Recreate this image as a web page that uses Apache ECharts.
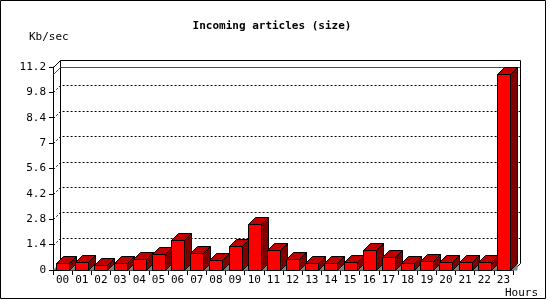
<!DOCTYPE html>
<html>
<head>
<meta charset="utf-8">
<script src="https://cdn.jsdelivr.net/npm/echarts@6/dist/echarts.min.js"></script>
<style>
html,body{margin:0;padding:0;background:#fff;}
#c{width:550px;height:300px;}
</style>
</head>
<body>
<div id="c"></div>
<script>
// ---- data ----
var hours = ['00','01','02','03','04','05','06','07','08','09','10','11',
             '12','13','14','15','16','17','18','19','20','21','22','23'];
var sizes = [0.37,0.42,0.26,0.37,0.59,0.87,1.66,0.92,0.53,1.31,2.52,1.09,
             0.61,0.37,0.37,0.42,1.10,0.70,0.37,0.48,0.42,0.42,0.42,10.8];
var yTicks = [0,1.4,2.8,4.2,5.6,7,8.4,9.8,11.2];
var titleText = 'Incoming articles (size)';
var yUnit = 'Kb/sec';
var xUnit = 'Hours';

// ---- style ----
var FONT = 'DejaVu Sans Mono';
var D = 7;        // 3D depth in px
var BD = 7;       // bar depth
var HALF = 6.5;   // half front width of bar
function px(v){ return Math.round(v) + 0.5; }

var chart = echarts.init(document.getElementById('c'), null, {renderer:'canvas'});

var gridLines = yTicks.slice(1, yTicks.length - 1);
var maxVal = Math.max.apply(null, sizes);

var option = {
  animation: false,
  backgroundColor: '#fff',
  title: [
    {text: titleText, left: 272, top: 21, textAlign: 'center', padding: 0,
     textStyle: {fontFamily: FONT, fontSize: 11, fontWeight: 'bold', color: '#000'}},
    {text: yUnit, left: 29, top: 32, padding: 0,
     textStyle: {fontFamily: FONT, fontSize: 11, fontWeight: 'normal', color: '#000'}},
    {text: xUnit, left: 505, top: 288, padding: 0,
     textStyle: {fontFamily: FONT, fontSize: 11, fontWeight: 'normal', color: '#000'}}
  ],
  graphic: [
    {type: 'rect', shape: {x: 0.5, y: 0.5, width: 545, height: 298},
     style: {fill: 'none', stroke: '#000', lineWidth: 1}, z: 100, silent: true}
  ],
  grid: {left: 53, right: 37, top: 67, bottom: 30, containLabel: false},
  xAxis: {
    type: 'category', data: hours, boundaryGap: true,
    axisLine: {show: true, lineStyle: {color: '#000', width: 1}},
    axisTick: {show: true, length: 5, alignWithLabel: false, interval: 0, lineStyle: {color: '#000'}},
    axisLabel: {interval: 0, color: '#000', fontFamily: FONT, fontSize: 11, margin: 5},
    splitLine: {show: false}
  },
  yAxis: {
    type: 'value', min: yTicks[0], max: yTicks[yTicks.length - 1], interval: 1.4,
    axisLine: {show: true, lineStyle: {color: '#000', width: 1}},
    axisTick: {show: true, length: 4, lineStyle: {color: '#000'}},
    axisLabel: {color: '#000', fontFamily: FONT, fontSize: 11, margin: 7,
      formatter: function(v){ return String(+v.toFixed(1)); }},
    splitLine: {show: false}
  },
  series: [
    // back wall dotted grid lines
    {
      type: 'custom', z: 1, silent: true,
      data: gridLines.map(function(v){ return [0, v]; }),
      encode: {x: 0, y: 1},
      renderItem: function(params, api){
        var bw = api.size([1, 0])[0];
        var c0 = api.coord([0, api.value(1)]);
        var cl = api.coord([hours.length - 1, api.value(1)]);
        var xl = c0[0] - bw / 2, xr = cl[0] + bw / 2;
        var y = c0[1];
        return {
          type: 'polyline',
          shape: {points: [[px(xl), px(y)], [px(xl + D), px(y - D)], [px(xr + D), px(y - D)]]},
          style: {stroke: '#000', lineWidth: 1, lineDash: [2, 2], fill: 'none'}
        };
      }
    },
    // frame
    {
      type: 'custom', z: 2, silent: true,
      data: [[0, 0]],
      encode: {x: 0, y: 1},
      renderItem: function(params, api){
        var bw = api.size([1, 0])[0];
        var top = yTicks[yTicks.length - 1];
        var b0 = api.coord([0, 0]);
        var t0 = api.coord([0, top]);
        var bl = api.coord([hours.length - 1, 0]);
        var xl = b0[0] - bw / 2, xr = bl[0] + bw / 2;
        var yb = b0[1], yt = t0[1];
        var ls = {stroke: '#000', lineWidth: 1, fill: 'none'};
        return {
          type: 'group',
          children: [
            {type: 'polygon', shape: {points: [[xl, yb], [xl + D, yb - D], [xl + D, yb]]},
             style: {fill: '#808080', stroke: null}},
            {type: 'polyline', shape: {points: [[px(xl), px(yt)], [px(xl + D), px(yt - D)], [px(xr + D), px(yt - D)], [px(xr + D), px(yb - D)], [px(xr), px(yb)]]}, style: ls},
            {type: 'polyline', shape: {points: [[px(xl + D), px(yt - D)], [px(xl + D), px(yb - D)]]}, style: ls}
          ]
        };
      }
    },
    // max line
    {
      type: 'custom', z: 3, silent: true,
      data: [[0, maxVal]],
      encode: {x: 0, y: 1},
      renderItem: function(params, api){
        var bw = api.size([1, 0])[0];
        var c0 = api.coord([0, api.value(1)]);
        var cl = api.coord([hours.length - 1, api.value(1)]);
        var xl = c0[0] - bw / 2, xr = cl[0] + bw / 2;
        var y = c0[1];
        return {
          type: 'polyline',
          shape: {points: [[px(xl), px(y)], [px(xl + D), px(y - D)], [px(xr + D), px(y - D)]]},
          style: {stroke: '#ff0000', lineWidth: 1, fill: 'none'}
        };
      }
    },
    // 3D bars
    {
      type: 'custom', z: 4, silent: true,
      data: sizes.map(function(v, i){ return [i, v]; }),
      encode: {x: 0, y: 1},
      renderItem: function(params, api){
        var i = api.value(0), v = api.value(1);
        var t = api.coord([i, v]);
        var b = api.coord([i, 0]);
        var cx = t[0];
        var x0 = px(cx - HALF), x1 = px(cx + HALF);
        var yt = px(t[1]), yb = px(b[1]);
        var d = BD;
        var ol = {stroke: '#000', lineWidth: 1};
        return {
          type: 'group',
          children: [
            {type: 'polygon', shape: {points: [[x1, yb], [x1 + d, yb - d], [x1 + d, yb]]},
             style: {fill: '#808080', stroke: null}},
            {type: 'polygon', shape: {points: [[x1, yt], [x1 + d, yt - d], [x1 + d, yb - d], [x1, yb]]},
             style: Object.assign({fill: '#800000'}, ol)},
            {type: 'polygon', shape: {points: [[x0, yt], [x0 + d, yt - d], [x1 + d, yt - d], [x1, yt]]},
             style: Object.assign({fill: '#c00000'}, ol)},
            {type: 'rect', shape: {x: x0, y: yt, width: x1 - x0, height: yb - yt},
             style: Object.assign({fill: '#ff0000'}, ol)}
          ]
        };
      }
    }
  ]
};
chart.setOption(option);
</script>
</body>
</html>
